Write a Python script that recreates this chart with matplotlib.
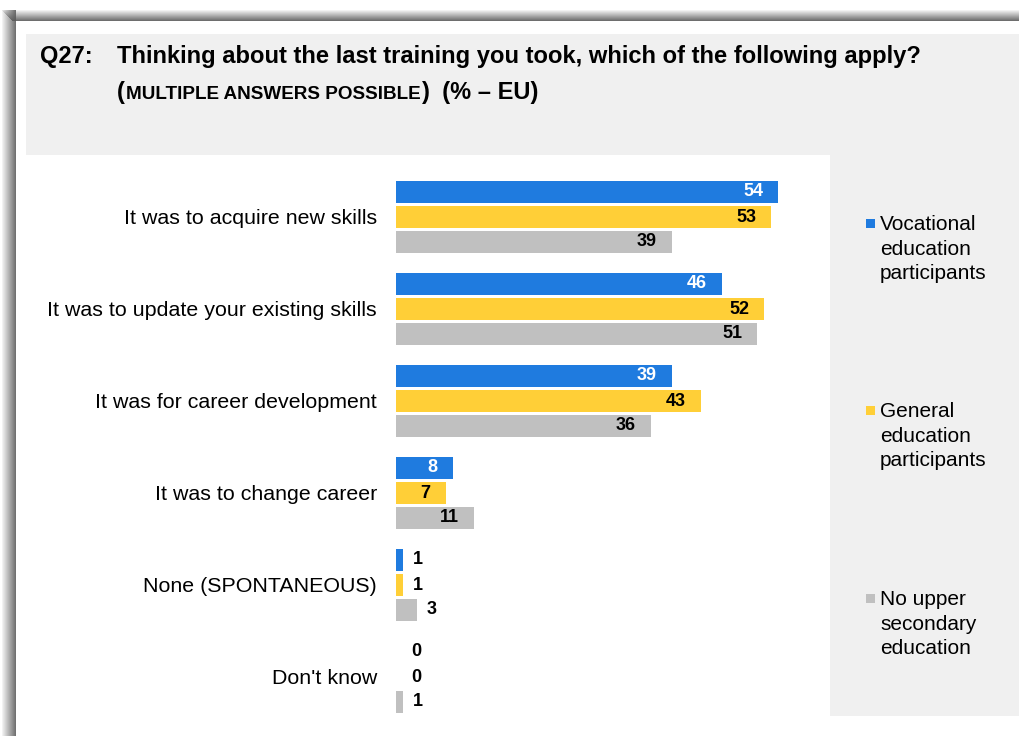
import matplotlib.pyplot as plt
from matplotlib.patches import Rectangle
import numpy as np

plt.rcParams['font.family'] = ['Liberation Sans', 'DejaVu Sans']

categories = ["It was to acquire new skills",
              "It was to update your existing skills",
              "It was for career development",
              "It was to change career",
              "None (SPONTANEOUS)",
              "Don't know"]
vocational = [54, 46, 39, 8, 1, 0]
general = [53, 52, 43, 7, 1, 0]
no_upper = [39, 51, 36, 11, 3, 1]
series_names = ["Vocational\neducation\nparticipants",
                "General\neducation\nparticipants",
                "No upper\nsecondary\neducation"]
colors = ['#1F7BDF', '#FFCF37', '#C0C0C0']
label_colors = ['white', 'black', 'black']

W, H = 1020, 736
fig = plt.figure(figsize=(W / 100, H / 100), dpi=100)
renderer = fig.canvas.get_renderer()


def fx(px):
    return px / W


def fy(py):
    return 1 - py / H


def rect(x0, y0, x1, y1, **kw):
    # pixel box (top-left origin) -> figure patch behind the axes
    fig.patches.append(Rectangle((fx(x0), fy(y1)), fx(x1) - fx(x0), fy(y0) - fy(y1),
                                 transform=fig.transFigure, lw=0, zorder=-5, **kw))


# shadowed frame
for i in range(11):
    rect(2 + i, 10 + i, W, 11 + i, color='#5a5a5a', alpha=0.08 + 0.08 * i)
for i in range(14):
    rect(2 + i, 10, 3 + i, H, color='#5a5a5a', alpha=0.08 + 0.06 * i)
rect(16, 21, W, H, color='white')

# title box and legend panel
rect(26, 34, W, 155, color='#F0F0F0')
rect(830, 155, W, 716, color='#F0F0F0')

bg = fig.add_axes([0, 0, 1, 1])
bg.axis('off')
bg.text(fx(40), fy(57), "Q27:", fontsize=17, fontweight='bold', va='center')
bg.text(fx(117), fy(57), "Thinking about the last training you took, which of the following apply?",
        fontsize=17.1, fontweight='bold', va='center')

# second title line: mixed sizes on one baseline
parts = [("(", 17, 1), ("MULTIPLE ANSWERS POSSIBLE", 13.6, 1), (")", 17, 0),
         ("  (% \u2013 EU)", 17, 0)]
x = 117
for s, size, gap in parts:
    t = bg.text(fx(x), fy(99), s, fontsize=size, fontweight='bold', va='baseline')
    x += t.get_window_extent(renderer).width + gap

# bars
ax = fig.add_axes([fx(396), 0, fx(425), fy(155)])
ax.set_xlim(0, 60)
spacing = 92.0
pitch = 25 / spacing
bar_h = 22 / spacing
top = (217 - 155) / spacing
ax.set_ylim((H - 217) / spacing, -top)
y = np.arange(len(categories))
for k, vals in enumerate([vocational, general, no_upper]):
    pos = y + (k - 1) * pitch
    ax.barh(pos, vals, height=bar_h, color=colors[k], label=series_names[k])
    for p, v in zip(pos, vals):
        if v >= 5:
            ax.annotate(str(v), (v, p), xytext=(-11, 0), textcoords='offset points',
                        ha='right', va='center', fontsize=13, fontweight='bold',
                        color=label_colors[k])
        else:
            ax.annotate(str(v), (v, p), xytext=(7 if v > 0 else 11, 0), textcoords='offset points',
                        ha='left', va='center', fontsize=13, fontweight='bold', color='black')

ax.set_yticks(y)
ax.set_yticklabels(categories, fontsize=15.4)
ax.tick_params(axis='y', length=0, pad=13.7)
ax.set_xticks([])
for s in ax.spines.values():
    s.set_visible(False)
ax.patch.set_alpha(0)

# legend
legend_y = [223, 410, 598]
for name, c, ly in zip(series_names, colors, legend_y):
    rect(866, ly - 4, 875, ly + 5, color=c)
    bg.text(fx(880), fy(ly - 8), name, fontsize=15, va='top', linespacing=1.38)

fig.savefig('out.png', dpi=100)
